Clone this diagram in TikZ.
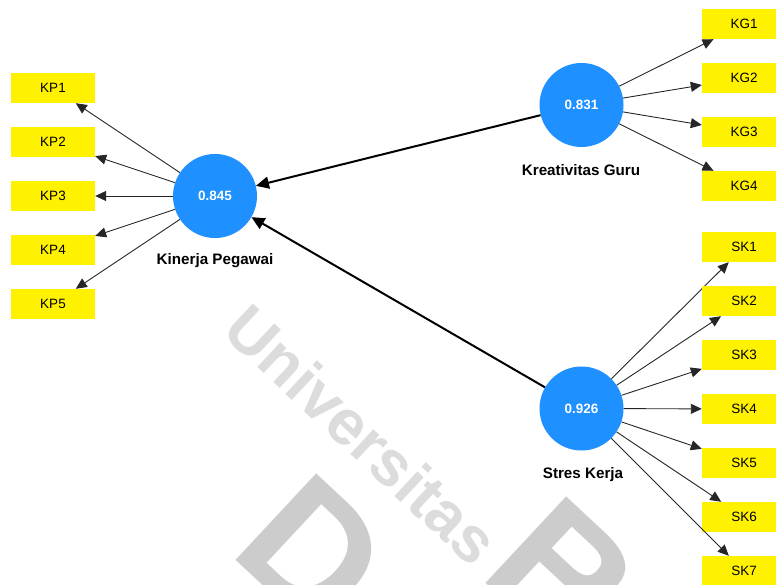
\documentclass[tikz,border=0pt]{standalone}
\usepackage{fontspec}
\setmainfont{Liberation Sans}
\usetikzlibrary{arrows.meta}
\definecolor{lvblue}{RGB}{30,144,255}
\definecolor{wmtext}{RGB}{220,220,220}
\definecolor{wmlogo}{RGB}{204,204,204}
\begin{document}
\begin{tikzpicture}[x=1pt,y=-1pt,
  ind/.style={fill=yellow, minimum width=84pt, minimum height=30pt, inner sep=0pt,
    font=\fontsize{13.5}{16}\selectfont},
  lv/.style={circle, fill=lvblue, minimum size=84pt, inner sep=0pt, text=white,
    font=\bfseries\fontsize{13.5}{16}\selectfont},
  lvlab/.style={anchor=base, inner sep=0pt, font=\bfseries\fontsize{15.2}{17}\selectfont},
  loadarrow/.style={draw=black!85, line width=0.9pt, -{Triangle[length=11pt,width=10pt]}},
  structarrow/.style={draw=black, line width=2pt, -{Triangle[length=13pt,width=12pt]}},
  wmletter/.style={rotate=-43, text=wmlogo, inner sep=0pt, anchor=north west,
    font=\bfseries\fontsize{172}{180}\selectfont}
]
\useasboundingbox (0,0) rectangle (776,585);
\begin{scope}
\clip (0,0) rectangle (776,585);
% watermark
\node[rotate=-43, text=wmtext, inner sep=0pt, font=\bfseries\fontsize{64}{72}\selectfont] (wm) at (362,434) {Universitas};
\node[wmletter] (wmd) at (308,466) {D};
\node[wmletter] (wmb) at (558,489) {B};

% latent variables
\node[lv] (kp) at (215,196) {0.845};
\node[lv] (kg) at (581.5,105) {0.831};
\node[lv] (sk) at (581.5,408.5) {0.926};
\node[lvlab] (kplab) at (215,265) {Kinerja Pegawai};
\node[lvlab] (kglab) at (581,176) {Kreativitas Guru};
\node[lvlab] (sklab) at (583,478) {Stres Kerja};

% indicators
\foreach \i/\y in {1/88,2/142,3/196,4/250,5/304}{
  \node[ind] (kp\i) at (53,\y) {KP\i};
  \draw[loadarrow] (kp) -- (kp\i);
}
\foreach \i/\y in {1/24,2/78,3/132,4/186}{
  \node[ind] (kg\i) at (744,\y) {KG\i};
  \draw[loadarrow] (kg) -- (kg\i);
}
\foreach \i/\y in {1/247,2/301,3/355,4/409,5/463,6/517,7/571}{
  \node[ind] (sk\i) at (744,\y) {SK\i};
  \draw[loadarrow] (sk) -- (sk\i);
}

% structural paths
\draw[structarrow] (kg) -- (kp);
\draw[structarrow] (sk) -- (kp);
\end{scope}
\end{tikzpicture}
\end{document}
